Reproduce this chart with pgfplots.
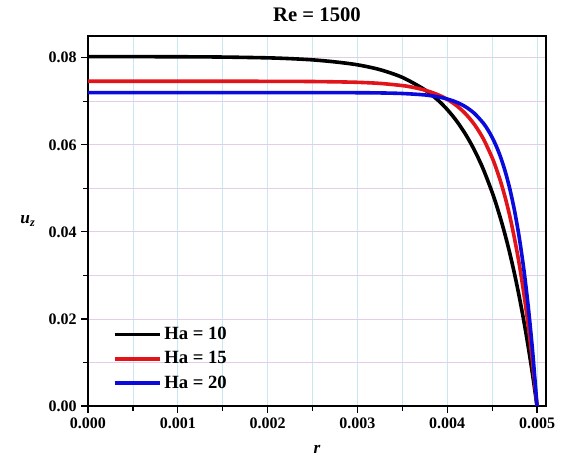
\documentclass[border=0pt]{standalone}
\usepackage{fontspec}
\setmainfont{Liberation Serif}
\usepackage{pgfplots}
\pgfplotsset{compat=1.18}
\definecolor{gx}{RGB}{200,232,242}
\definecolor{gy}{RGB}{228,205,232}
\definecolor{myred}{RGB}{225,20,25}
\definecolor{myblue}{RGB}{10,10,220}
\begin{document}
\begin{tikzpicture}
\begin{axis}[name=ax,
  width=343.5pt, height=277.5pt, scale only axis,
  xmin=0, xmax=0.0051, ymin=0, ymax=0.085,
  xtick={0,0.001,0.002,0.003,0.004,0.005},
  minor xtick={0.0005,0.0015,0.0025,0.0035,0.0045},
  ytick={0,0.02,0.04,0.06,0.08},
  minor ytick={0.01,0.03,0.05,0.07},
  scaled ticks=false,
  xticklabel style={/pgf/number format/.cd,fixed,fixed zerofill,precision=3,assume math mode=true},
  yticklabel style={/pgf/number format/.cd,fixed,fixed zerofill,precision=2,assume math mode=true},
  tick label style={font=\fontsize{12}{13}\selectfont\bfseries},
  tick align=outside, tick pos=left,
  major tick length=5pt, minor tick length=3.5pt,
  every tick/.style={black, line width=0.9pt},
  axis line style={line width=1pt},
  grid=both,
  major x grid style={gx, line width=0.6pt},
  minor x grid style={gx, line width=0.6pt},
  major y grid style={gy, line width=0.6pt},
  minor y grid style={gy, line width=0.6pt},
  title={\fontsize{15.5}{16}\selectfont\bfseries Re = 1500},
  title style={yshift=1pt},
  xlabel={\fontsize{13}{14}\selectfont\bfseries\itshape r},
  xlabel style={yshift=-6pt},
  ylabel={\fontsize{13}{14}\selectfont\bfseries\itshape u\textsubscript{z}},
  ylabel style={rotate=-90},
  ylabel shift=3pt,
  legend style={at={(rel axis cs:0.045,0.027)}, anchor=south west, draw=none, fill=none,
    font=\fontsize{14}{15}\selectfont\bfseries, row sep=3.5pt},
  legend cell align=left,
  legend image code/.code={\draw[#1, line width=2.6pt] (0pt,0pt) -- (34pt,0pt);},
]
\addplot[black, line width=2.7pt, smooth, tension=0.5] coordinates {
(0,0.08027) (0.001,0.08023) (0.0015,0.08016) (0.002,0.07998) (0.00225,0.0798) (0.0025,0.07952) (0.00275,0.07905) (0.003,0.07838)
(0.00325,0.07727) (0.0035,0.07549) (0.00375,0.07265) (0.0039,0.07019) (0.004,0.06811)
(0.0041,0.06560) (0.0042,0.06256) (0.0043,0.05890) (0.0044,0.05447) (0.0045,0.04911) (0.00455,0.04603) (0.0046,0.04264)
(0.00465,0.03891) (0.0047,0.03481) (0.00475,0.03030) (0.0048,0.02534) (0.00485,0.01988) (0.0049,0.01387) (0.00495,0.00727) (0.005,0)};
\addlegendentry{Ha = 10}
\addplot[myred, line width=2.7pt, smooth, tension=0.5] coordinates {
(0,0.07460) (0.002,0.07459) (0.0025,0.07454) (0.00275,0.07447) (0.003,0.07436)
(0.00325,0.07411) (0.0035,0.07361) (0.0036,0.07328) (0.00375,0.07257) (0.0039,0.07148) (0.004,0.07044)
(0.0041,0.06906) (0.0042,0.06721) (0.0043,0.06475) (0.0044,0.06146) (0.0045,0.05706) (0.00455,0.05431) (0.0046,0.05119)
(0.00465,0.04755) (0.0047,0.04334) (0.00475,0.03838) (0.0048,0.03286) (0.00485,0.02627) (0.0049,0.01884) (0.00495,0.01005) (0.005,0)};
\addlegendentry{Ha = 15}
\addplot[myblue, line width=2.7pt, smooth, tension=0.5] coordinates {
(0,0.07200) (0.0025,0.07200) (0.003,0.07197) (0.00325,0.07192)
(0.0035,0.07179) (0.00375,0.07146) (0.0039,0.07100) (0.004,0.07052) (0.0041,0.06982) (0.0042,0.06879)
(0.0043,0.06727) (0.0044,0.06503) (0.00445,0.06354) (0.0045,0.06172) (0.00455,0.05952) (0.0046,0.05684) (0.00465,0.05358) (0.0047,0.04962)
(0.00475,0.04481) (0.0048,0.03897) (0.00485,0.03187) (0.0049,0.02324) (0.00495,0.01275) (0.005,0)};
\addlegendentry{Ha = 20}
\end{axis}
\path (ax.south west) ++(-66pt,-43.5pt) coordinate (bl);
\path (ax.north east) ++(12.75pt,27pt) coordinate (tr);
\path (bl) rectangle (tr);
\end{tikzpicture}
\end{document}
